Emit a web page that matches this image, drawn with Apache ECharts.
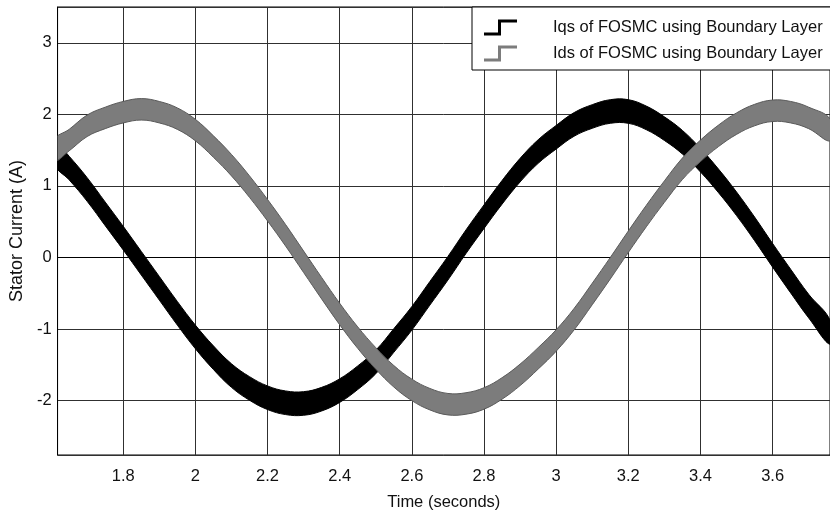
<!DOCTYPE html>
<html>
<head>
<meta charset="utf-8">
<script src="https://cdn.jsdelivr.net/npm/echarts@6/dist/echarts.min.js"></script>
<style>
  html, body { margin: 0; padding: 0; background: #fff; }
  #myChart { width: 830px; height: 516px; }
</style>
</head>
<body>
<div id="myChart"></div>
<script>
// time samples (seconds)
var timeSec = [1.61, 1.65, 1.70, 1.75, 1.80, 1.85, 1.90, 1.95, 2.00, 2.05, 2.10, 2.15, 2.20, 2.25,
  2.30, 2.35, 2.40, 2.45, 2.50, 2.55, 2.60, 2.65, 2.70, 2.75, 2.80, 2.85, 2.90, 2.95, 3.00, 3.05,
  3.10, 3.15, 3.20, 3.25, 3.30, 3.35, 3.40, 3.45, 3.50, 3.55, 3.60, 3.65, 3.70, 3.76]
// Iqs (black)
var iqsVals = [1.46, 1.25, 0.95, 0.61, 0.27, -0.08, -0.43, -0.78, -1.11, -1.40, -1.65, -1.83, -1.96, -2.03,
  -2.04, -1.98, -1.86, -1.68, -1.46, -1.16, -0.85, -0.50, -0.15, 0.22, 0.57, 0.91, 1.22, 1.48, 1.68, 1.86,
  1.97, 2.04, 2.04, 1.95, 1.80, 1.61, 1.36, 1.07, 0.75, 0.40, 0.03, -0.33, -0.68, -1.05]
// Ids (gray)
var idsVals = [1.50, 1.64, 1.84, 1.95, 2.03, 2.07, 2.03, 1.94, 1.78, 1.55, 1.29, 0.99, 0.66, 0.31,
  -0.06, -0.43, -0.79, -1.12, -1.41, -1.66, -1.85, -1.98, -2.05, -2.04, -1.97, -1.83, -1.64, -1.41, -1.16, -0.86,
  -0.51, -0.15, 0.22, 0.58, 0.92, 1.24, 1.49, 1.70, 1.87, 1.99, 2.05, 2.03, 1.95, 1.78]

var IQS_NAME = 'Iqs of FOSMC using Boundary Layer'
var IDS_NAME = 'Ids of FOSMC using Boundary Layer'

var FONT = '"Liberation Sans", Arial, sans-serif'

// the traces are noisy, so each one is drawn as a band of fixed height around the value
function bandSeries(name, vals, half, color, edge) {
  return {
    name: name,
    type: 'custom',
    clip: true,
    silent: true,
    itemStyle: { color: color },
    encode: { x: 0, y: 1 },
    data: timeSec.map(function (t, i) { return [t, vals[i]] }),
    renderItem: function (params, api) {
      if (params.dataIndex !== 0) return null
      var upper = [], lower = []
      for (var i = 0; i < timeSec.length; i++) {
        upper.push(api.coord([timeSec[i], vals[i] + half]))
        lower.push(api.coord([timeSec[i], vals[i] - half]))
      }
      var cs = params.coordSys
      return {
        type: 'polygon',
        shape: { points: upper.concat(lower.reverse()), smooth: 0.4 },
        style: { fill: color, stroke: edge, lineWidth: 1 },
        clipPath: { type: 'rect', shape: { x: cs.x, y: cs.y, width: cs.width, height: cs.height } }
      }
    }
  }
}

var stepIcon = 'path://M0,13L14,13L14,0L33,0L33,3L17,3L17,16L0,16Z'

var myChart = echarts.init(document.getElementById('myChart'))
var option = {
  animation: false,
  backgroundColor: '#fff',
  grid: {
    left: 55, right: -1, top: 7, bottom: 60,
    show: true, borderColor: '#000', borderWidth: 1
  },
  legend: {
    data: [IQS_NAME, IDS_NAME],
    orient: 'vertical',
    left: 472, top: 7,
    padding: [12, 20, 8, 12],
    itemGap: 9,
    itemWidth: 33, itemHeight: 16,
    icon: stepIcon,
    backgroundColor: '#fff',
    borderColor: '#000', borderWidth: 1,
    textStyle: { fontFamily: FONT, fontSize: 16.5, color: '#111', padding: [0, 0, 0, 31] }
  },
  xAxis: {
    type: 'value',
    min: 1.618, max: 3.759,
    splitNumber: 10,
    name: 'Time (seconds)',
    nameLocation: 'middle',
    nameGap: 39,
    nameTextStyle: { fontFamily: FONT, fontSize: 16.5, color: '#111' },
    axisLine: { show: true, lineStyle: { color: '#000', width: 1 } },
    axisTick: { show: false },
    axisLabel: { fontFamily: FONT, fontSize: 16.5, color: '#111', margin: 13, showMinLabel: false, showMaxLabel: false },
    splitLine: { show: true, lineStyle: { color: '#303030', width: 1 } }
  },
  yAxis: {
    type: 'value',
    min: -2.76, max: 3.5,
    name: 'Stator Current (A)',
    nameLocation: 'middle',
    nameGap: 28,
    nameTextStyle: { fontFamily: FONT, fontSize: 18, color: '#111' },
    axisLine: { show: true, lineStyle: { color: '#000', width: 1 } },
    axisTick: { show: false },
    axisLabel: { fontFamily: FONT, fontSize: 16.5, color: '#111', margin: 6, showMinLabel: false, showMaxLabel: false },
    splitLine: { show: true, lineStyle: { color: '#303030', width: 1 } }
  },
  series: [
    bandSeries(IQS_NAME, iqsVals, 0.165, '#000', '#000'),
    bandSeries(IDS_NAME, idsVals, 0.15, '#7c7c7c', '#5a5a5a')
  ]
}
myChart.setOption(option)
</script>
</body>
</html>
